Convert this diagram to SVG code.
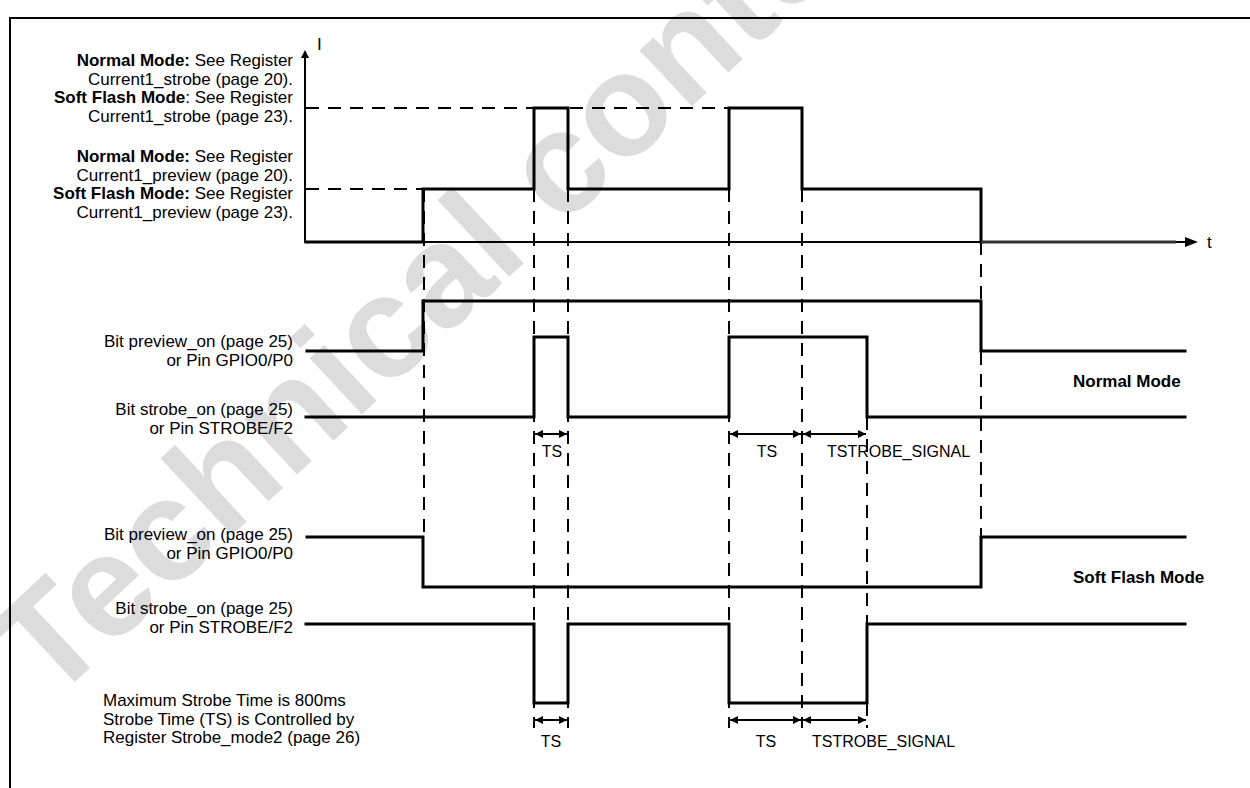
<svg xmlns="http://www.w3.org/2000/svg" width="1250" height="788" viewBox="0 0 1250 788">
<style>
  .lbl { font-family: "Liberation Sans", Arial, sans-serif; font-size: 17px; fill: #000; }
  .b { font-weight: bold; }
  .ts { font-family: "Liberation Sans", Arial, sans-serif; font-size: 16px; fill: #000; }
  .sig { fill: none; stroke: #000; stroke-width: 3; stroke-linejoin: miter; stroke-linecap: square; }
  .axis { fill: none; stroke: #000; stroke-width: 2; }
  .dash { fill: none; stroke: #000; stroke-width: 2; stroke-dasharray: 13 9; }
  .dim { fill: none; stroke: #000; stroke-width: 2; marker-start: url(#ah); marker-end: url(#ah); }
  .wm { font-family: "Liberation Sans", Arial, sans-serif; font-weight: bold; font-size: 145px; fill: #dcdcdc; }
</style>
<defs>
  <marker id="ah" viewBox="0 0 10 10" refX="10" refY="5" markerUnits="userSpaceOnUse" markerWidth="9" markerHeight="8" orient="auto-start-reverse">
    <path d="M0,0 L10,5 L0,10 z" fill="#000"/>
  </marker>
</defs>
<rect width="1250" height="788" fill="#fff"/>

<g id="watermark">
  <text class="wm" transform="translate(50,705) rotate(-43)">Technical content</text>
</g>

<g id="frame">
  <path d="M10,790 L10,18 L1252,18" fill="none" stroke="#000" stroke-width="2"/>
</g>

<g id="axes">
  <line class="axis" x1="305" y1="58" x2="305" y2="243"/>
  <path d="M305,50 L301,58 L309,58 z" fill="#000"/>
  <line class="axis" x1="304" y1="242" x2="1186" y2="242"/>
  <path d="M1198,242 L1185,237 L1185,247 z" fill="#000"/>
  <text class="lbl" x="317" y="50">I</text>
  <text class="lbl" x="1207" y="248">t</text>
</g>

<g id="connectors">
  <line class="dash" x1="306" y1="108" x2="729" y2="108"/>
  <line class="dash" x1="306" y1="189" x2="423" y2="189"/>
  <line class="dash" x1="424" y1="189" x2="424" y2="537"/>
  <line class="dash" x1="534" y1="189" x2="534" y2="728"/>
  <line class="dash" x1="568" y1="189" x2="568" y2="728"/>
  <line class="dash" x1="729" y1="189" x2="729" y2="728"/>
  <line class="dash" x1="802" y1="189" x2="802" y2="728"/>
  <line class="dash" x1="867" y1="417" x2="867" y2="728"/>
  <line class="dash" x1="981" y1="242" x2="981" y2="537"/>
  <line class="dim" x1="535" y1="434" x2="567" y2="434"/>
  <line class="dim" x1="730" y1="434" x2="801" y2="434"/>
  <line class="dim" x1="803" y1="434" x2="866" y2="434"/>
  <line class="dim" x1="535" y1="720" x2="567" y2="720"/>
  <line class="dim" x1="730" y1="720" x2="801" y2="720"/>
  <line class="dim" x1="803" y1="720" x2="866" y2="720"/>
</g>

<g id="signal-current">
  <polyline class="sig" points="306,242 423,242 423,189 534,189 534,108 568,108 568,189 729,189 729,108 802,108 802,189 981,189 981,242"/>
  <line x1="981" y1="242" x2="1176" y2="242" stroke="#333" stroke-width="3"/>
</g>
<g id="signal-normal-preview">
  <polyline class="sig" points="307,351 423,351 423,301 981,301 981,351 1185,351"/>
</g>
<g id="signal-normal-strobe">
  <polyline class="sig" points="306,417 534,417 534,337 568,337 568,417 729,417 729,337 867,337 867,417 1185,417"/>
</g>
<g id="signal-soft-preview">
  <polyline class="sig" points="307,537 423,537 423,587 981,587 981,537 1185,537"/>
</g>
<g id="signal-soft-strobe">
  <polyline class="sig" points="306,624 534,624 534,703 568,703 568,624 729,624 729,703 867,703 867,624 1185,624"/>
</g>

<g id="label-levels" class="lbl" text-anchor="end">
  <text x="293" y="66"><tspan class="b">Normal Mode:</tspan> See Register</text>
  <text x="293" y="84.5">Current1_strobe (page 20).</text>
  <text x="293" y="103"><tspan class="b">Soft Flash Mode</tspan>: See Register</text>
  <text x="293" y="121.5">Current1_strobe (page 23).</text>
  <text x="293" y="162"><tspan class="b">Normal Mode:</tspan> See Register</text>
  <text x="293" y="180.5">Current1_preview (page 20).</text>
  <text x="293" y="199"><tspan class="b">Soft Flash Mode:</tspan> See Register</text>
  <text x="293" y="217.5">Current1_preview (page 23).</text>
</g>
<g id="label-normal-preview" class="lbl" text-anchor="end">
  <text x="293" y="347">Bit preview_on (page 25)</text>
  <text x="293" y="366">or Pin GPIO0/P0</text>
</g>
<g id="label-normal-strobe" class="lbl" text-anchor="end">
  <text x="293" y="415">Bit strobe_on (page 25)</text>
  <text x="293" y="434">or Pin STROBE/F2</text>
</g>
<g id="label-soft-preview" class="lbl" text-anchor="end">
  <text x="293" y="540">Bit preview_on (page 25)</text>
  <text x="293" y="558.5">or Pin GPIO0/P0</text>
</g>
<g id="label-soft-strobe" class="lbl" text-anchor="end">
  <text x="293" y="614">Bit strobe_on (page 25)</text>
  <text x="293" y="632.5">or Pin STROBE/F2</text>
</g>
<g id="label-modes" class="lbl b">
  <text x="1073" y="387">Normal Mode</text>
  <text x="1073" y="583">Soft Flash Mode</text>
</g>
<g id="label-notes" class="lbl">
  <text x="103" y="706">Maximum Strobe Time is 800ms</text>
  <text x="103" y="724.5">Strobe Time (TS) is Controlled by</text>
  <text x="103" y="743">Register Strobe_mode2 (page 26)</text>
</g>
<g id="label-times" class="ts">
  <text x="552" y="457" text-anchor="middle">TS</text>
  <text x="767" y="457" text-anchor="middle">TS</text>
  <text x="827" y="457">TSTROBE_SIGNAL</text>
  <text x="551" y="747" text-anchor="middle">TS</text>
  <text x="766" y="747" text-anchor="middle">TS</text>
  <text x="812" y="747">TSTROBE_SIGNAL</text>
</g>
</svg>
